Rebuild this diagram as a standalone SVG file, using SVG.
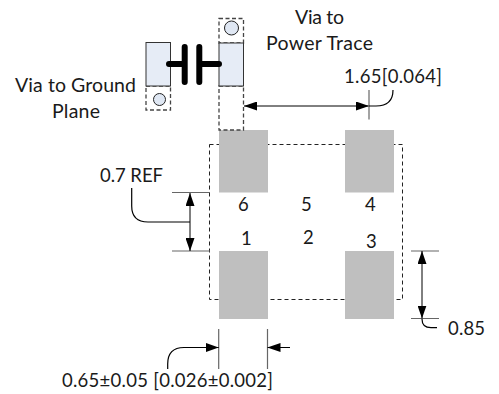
<svg xmlns="http://www.w3.org/2000/svg" width="499" height="394" viewBox="0 0 499 394">
<defs>
<style>
text{font-family:"Lato","Open Sans","Liberation Sans",sans-serif;font-size:19.500px;fill:#1a1a1a}
text.num{font-size:18.500px}
.pad{fill:#bfbfbf}
.dash{fill:none;stroke:#222;stroke-width:1;stroke-dasharray:4 3}
.gdash{fill:none;stroke:#444;stroke-width:1.3;stroke-dasharray:4 2.5}
.via{fill:#e6ecf6;stroke:#333;stroke-width:1}
.circ{fill:#dfe7f3;stroke:#222;stroke-width:1}
.cap{fill:none;stroke:#000;stroke-width:6;stroke-linecap:round}
.tick{fill:none;stroke:#666;stroke-width:1.2}
.dim{fill:none;stroke:#000;stroke-width:1}
.lead{fill:none;stroke:#000;stroke-width:1.2}
</style>
<marker id="ah" viewBox="0 0 13 9" refX="13" refY="4.500" markerWidth="13" markerHeight="9" markerUnits="userSpaceOnUse" orient="auto-start-reverse"><path d="M0 0L13 4.500L0 9Z" fill="#000"/></marker>
</defs>
<g id="package">
<rect class="dash" x="209.500" y="144.500" width="193" height="155"/>
<rect class="pad" x="219" y="130" width="49" height="62.500"/>
<rect class="pad" x="345" y="130" width="49" height="62.500"/>
<rect class="pad" x="219" y="251" width="49" height="68"/>
<rect class="pad" x="345" y="251" width="49" height="68"/>
</g>
<g id="via-ground">
<rect class="gdash" x="146" y="86" width="24.500" height="24"/>
<rect class="via" x="146" y="42.500" width="24.500" height="43.500"/>
<circle class="circ" cx="159.500" cy="99.500" r="6"/>
</g>
<g id="via-power">
<rect class="gdash" x="219" y="18.500" width="24.500" height="24.500"/>
<rect class="gdash" x="219" y="86" width="24.500" height="44"/>
<rect class="via" x="219" y="43" width="24.500" height="43"/>
<circle class="circ" cx="231.500" cy="28" r="7"/>
</g>
<g id="capacitor">
<path class="cap" d="M169 64H184.700M184.700 47V82M199.300 47V82M199.300 64H219"/>
</g>
<g id="connectors">
<path class="dim" d="M244 106H369" marker-start="url(#ah)" marker-end="url(#ah)"/>
<path class="tick" d="M369 90V119.500"/>
<path class="lead" d="M369 106H376Q393 106 393 90"/>
<path class="tick" d="M172 192.500H210M172 251H210"/>
<path class="dim" d="M190 193V251" marker-start="url(#ah)" marker-end="url(#ah)"/>
<path class="lead" d="M131.700 188V206Q131.700 222 148 222H190"/>
<path class="tick" d="M218.700 329V369M267.500 329V369"/>
<path class="lead" d="M167.700 369V364Q167.700 347.500 184 347.500H218.700" marker-end="url(#ah)"/>
<path class="dim" d="M267.500 347.500H290" marker-start="url(#ah)"/>
<path class="tick" d="M411 251H439M411 318.500H439"/>
<path class="dim" d="M422 251V318.500" marker-start="url(#ah)" marker-end="url(#ah)"/>
<path class="lead" d="M422 319Q422 327.700 431 327.700H437"/>
</g>
<g id="labels">
<text x="295" y="24" textLength="49">Via to</text>
<text x="266" y="50" textLength="107">Power Trace</text>
<text x="15" y="92" textLength="121">Via to Ground</text>
<text x="52" y="118" textLength="48">Plane</text>
<text class="num" x="344" y="83" textLength="98">1.65[0.064]</text>
<text class="num" x="100" y="182" textLength="63">0.7 REF</text>
<text class="num" x="238" y="211">6</text>
<text class="num" x="301" y="211">5</text>
<text class="num" x="365" y="211">4</text>
<text class="num" x="241" y="245">1</text>
<text class="num" x="303" y="244">2</text>
<text class="num" x="366" y="248">3</text>
<text class="num" x="448" y="335" textLength="37">0.85</text>
<text class="num" x="62" y="387" textLength="211">0.65±0.05 [0.026±0.002]</text>
</g>
</svg>
